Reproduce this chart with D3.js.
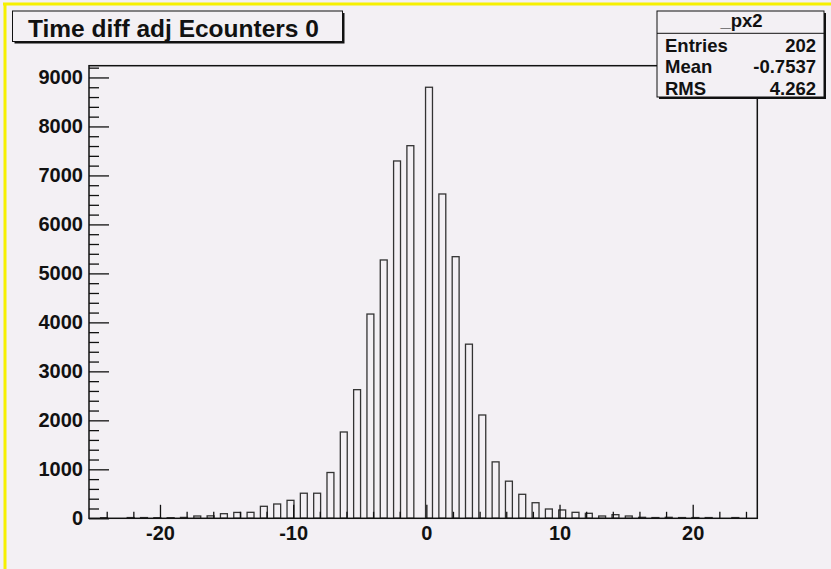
<!DOCTYPE html>
<html>
<head>
<meta charset="utf-8">
<script src="https://cdn.jsdelivr.net/npm/d3@7"></script>
<style>
  html, body { margin: 0; padding: 0; background: #f3f0f4; }
  svg { display: block; }
  text { font-family: "Liberation Sans", Arial, Helvetica, sans-serif; font-weight: bold; fill: #111; }
</style>
</head>
<body>
<script>
// ---- data ----
const title = "Time diff adj Ecounters 0";
const statsName = "_px2";
const statsLabels = ["Entries", "Mean", "RMS"];
const statsValues = ["202", "-0.7537", "4.262"];

// bin centres (x) and bin contents
const binCenters = [
  -24.2, -23.2, -22.2, -21.2, -20.2, -19.2, -18.2, -17.2, -16.2, -15.2, -14.2, -13.2,
  -12.2, -11.2, -10.2, -9.2, -8.2, -7.2, -6.2, -5.2, -4.2, -3.2, -2.2, -1.2,
  0.2, 1.2, 2.2, 3.2, 4.2, 5.2, 6.2, 7.2, 8.2, 9.2, 10.2, 11.2,
  12.2, 13.2, 14.2, 15.2, 16.2, 17.2, 18.2, 19.2, 20.2, 21.2, 22.2, 23.2
];
const binCounts = [
  12, 0, 15, 15, 12, 12, 18, 47, 50, 94, 120, 122,
  245, 292, 367, 512, 512, 935, 1762, 2626, 4170, 5274, 7295, 7607,
  8800, 6621, 5341, 3555, 2109, 1152, 758, 490, 318, 190, 170, 122,
  102, 47, 74, 47, 20, 15, 20, 15, 15, 15, 0, 15
];
const xMajorTicks = [-20, -10, 0, 10, 20];
const xMinorTicks = [-24, -22, -18, -16, -14, -12, -8, -6, -4, -2, 2, 4, 6, 8, 12, 14, 16, 18, 22, 24];
const yMajorTicks = [0, 1000, 2000, 3000, 4000, 5000, 6000, 7000, 8000, 9000];
const yMinorTicks = [200, 400, 600, 800, 1200, 1400, 1600, 1800, 2200, 2400, 2600, 2800,
  3200, 3400, 3600, 3800, 4200, 4400, 4600, 4800, 5200, 5400, 5600, 5800,
  6200, 6400, 6600, 6800, 7200, 7400, 7600, 7800, 8200, 8400, 8600, 8800, 9200];
const xDomain = [-25.33, 24.85];
const yDomain = [0, 9240];
const barHalfWidth = 0.26;

// ---- layout ----
const W = 831, H = 569;
const pLeft = 89, pRight = 757.3, pTop = 65.7, pBottom = 518.3;

const svg = d3.select("body").append("svg").attr("width", W).attr("height", H);
svg.append("rect").attr("width", W).attr("height", H).attr("fill", "#f3f0f4");

// yellow canvas border
svg.append("line").attr("x1", 3).attr("x2", W).attr("y1", 4).attr("y2", 4)
  .attr("stroke", "#f6f000").attr("stroke-width", 3);
svg.append("line").attr("x1", 5).attr("x2", 5).attr("y1", 3).attr("y2", H)
  .attr("stroke", "#f6f000").attr("stroke-width", 3);

const x = d3.scaleLinear().domain(xDomain).range([pLeft, pRight]);
const y = d3.scaleLinear().domain(yDomain).range([pBottom, pTop]);

// bars
svg.append("g").selectAll("rect").data(binCounts.map((c, i) => ({ c, x: binCenters[i] })).filter(d => d.c > 0))
  .join("rect")
  .attr("x", d => x(d.x - barHalfWidth))
  .attr("width", d => x(d.x + barHalfWidth) - x(d.x - barHalfWidth))
  .attr("y", d => y(d.c))
  .attr("height", d => Math.max(0.6, y(0) - y(d.c)))
  .attr("fill", "none")
  .attr("stroke", "#333")
  .attr("stroke-width", 1.3);

const fmt = d => String(d);

// x axis
const gx = svg.append("g").attr("transform", `translate(0,${pBottom})`);
gx.call(d3.axisBottom(x).tickValues(xMinorTicks).tickSize(-6.5).tickSizeOuter(0).tickFormat(""));
gx.call(g => g.select(".domain").remove());
const gx2 = svg.append("g").attr("transform", `translate(0,${pBottom})`);
gx2.call(d3.axisBottom(x).tickValues(xMajorTicks).tickSize(-13.5).tickSizeOuter(0).tickPadding(8).tickFormat(fmt));
gx2.call(g => g.select(".domain").remove());

// y axis
const gy = svg.append("g").attr("transform", `translate(${pLeft},0)`);
gy.call(d3.axisLeft(y).tickValues(yMinorTicks).tickSize(-10).tickSizeOuter(0).tickFormat(""));
gy.call(g => g.select(".domain").remove());
const gy2 = svg.append("g").attr("transform", `translate(${pLeft},0)`);
gy2.call(d3.axisLeft(y).tickValues(yMajorTicks).tickSize(-20).tickSizeOuter(0).tickPadding(6).tickFormat(fmt));
gy2.call(g => g.select(".domain").remove());

svg.selectAll(".tick line").attr("stroke", "#111").attr("stroke-width", 1.3);
svg.selectAll(".tick text").attr("font-size", 20).attr("font-family", "Liberation Sans, Arial, sans-serif")
  .attr("font-weight", "bold").attr("fill", "#111");

// frame
svg.append("rect").attr("x", pLeft).attr("y", pTop).attr("width", pRight - pLeft).attr("height", pBottom - pTop)
  .attr("fill", "none").attr("stroke", "#111").attr("stroke-width", 1.5);

// title box
const tb = { x: 12.5, y: 11, w: 330, h: 30.5 };
svg.append("rect").attr("x", tb.x + 2).attr("y", tb.y + 2).attr("width", tb.w).attr("height", tb.h).attr("fill", "#111");
svg.append("rect").attr("x", tb.x).attr("y", tb.y).attr("width", tb.w).attr("height", tb.h)
  .attr("fill", "#f3f0f4").attr("stroke", "#111").attr("stroke-width", 1);
svg.append("text").attr("x", 28).attr("y", 36.5).attr("font-size", 24.5).text(title);

// stats box
const sb = { x: 657, y: 11, w: 167, h: 86 };
svg.append("rect").attr("x", sb.x + 2).attr("y", sb.y + 2).attr("width", sb.w).attr("height", sb.h).attr("fill", "#111");
svg.append("rect").attr("x", sb.x).attr("y", sb.y).attr("width", sb.w).attr("height", sb.h)
  .attr("fill", "#f3f0f4").attr("stroke", "#111").attr("stroke-width", 1);
svg.append("line").attr("x1", sb.x).attr("x2", sb.x + sb.w).attr("y1", 33.3).attr("y2", 33.3)
  .attr("stroke", "#111").attr("stroke-width", 1);
svg.append("text").attr("x", sb.x + sb.w / 2 + 1).attr("y", 27).attr("text-anchor", "middle")
  .attr("font-size", 18.5).text(statsName);
const rowBase = [51.5, 73, 94.5];
statsLabels.forEach((l, i) => {
  svg.append("text").attr("x", 665).attr("y", rowBase[i]).attr("font-size", 18.5).text(l);
  svg.append("text").attr("x", 816).attr("y", rowBase[i]).attr("text-anchor", "end")
    .attr("font-size", 18.5).text(statsValues[i]);
});
</script>
</body>
</html>
